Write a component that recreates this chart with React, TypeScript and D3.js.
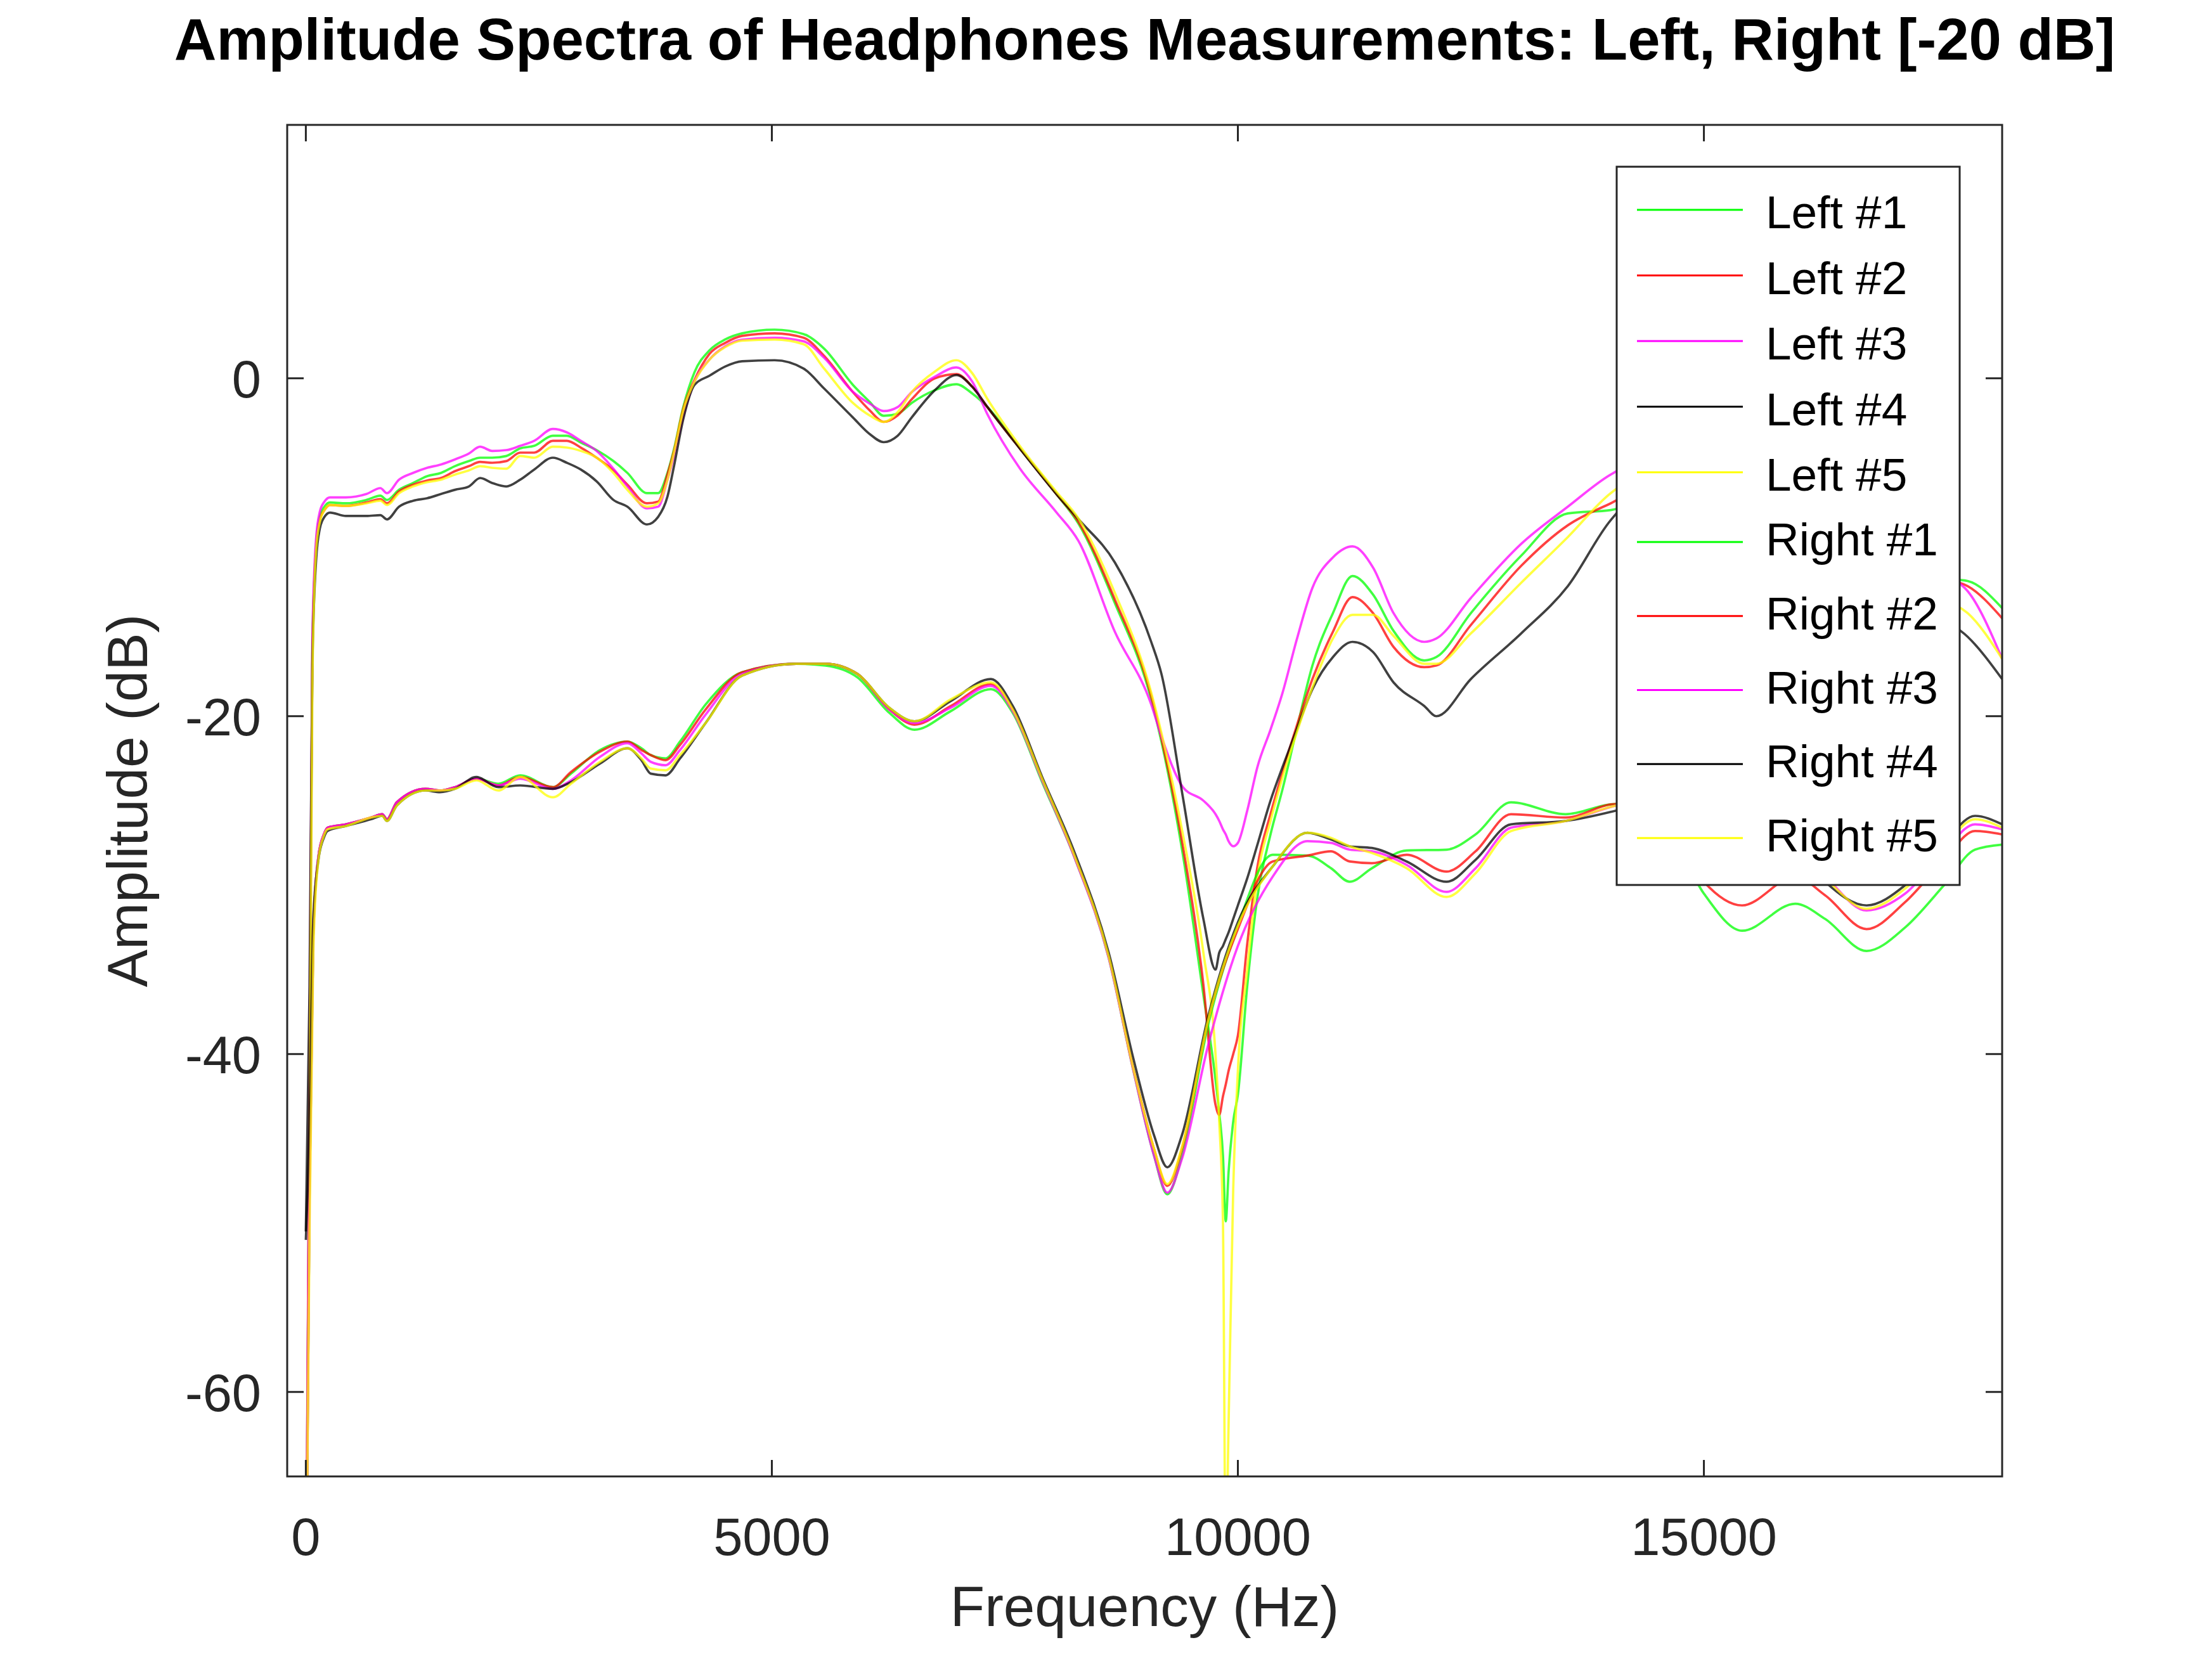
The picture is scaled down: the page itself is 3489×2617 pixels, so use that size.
import * as d3 from "d3";

// Headphone amplitude spectra, Left measurements at 0 dB, Right shifted by -20 dB.
const W = 3489;
const H = 2617;
const box = { left: 453, right: 3158, top: 197, bottom: 2329 };

const xTicks = [0, 5000, 10000, 15000];
const yTicks = [-60, -40, -20, 0];

const names = ["Left #1", "Left #2", "Left #3", "Left #4", "Left #5", "Right #1", "Right #2", "Right #3", "Right #4", "Right #5"];
const colors = ["#00ff00", "#ff0000", "#ff00ff", "#000000", "#ffff00", "#00ff00", "#ff0000", "#ff00ff", "#000000", "#ffff00"];

// frequency grid (Hz) for the Left curves
const leftFreq = [
  0, 40, 70, 110, 150, 200, 260, 430, 650, 800,
  870, 1000, 1150, 1300, 1450, 1600, 1750, 1870, 2000, 2150,
  2300, 2450, 2650, 2800, 2950, 3120, 3300, 3450, 3660, 3780,
  3880, 3950, 4050, 4170, 4330, 4500, 4680, 5030, 5340, 5560,
  5870, 6050, 6200, 6350, 6500, 6750, 6980, 7150, 7310, 7660,
  8050, 8290, 8680, 9070, 9180, 9410, 9630, 9760, 9800, 9840,
  9870, 9900, 9950, 10000, 10100, 10210, 10350, 10480, 10630, 10800,
  11020, 11230, 11450, 11670, 12000, 12130, 12500, 13040, 13540, 14000,
  14500, 15200, 16000, 17000, 17500, 17830, 18200,
];

const left1 = [
  -75, -42, -16, -9.8, -8.2, -7.6, -7.35, -7.4, -7.2, -6.95,
  -7.2, -6.6, -6.2, -5.8, -5.6, -5.2, -4.9, -4.7, -4.7, -4.6,
  -4.15, -4.0, -3.4, -3.4, -3.8, -4.25, -4.9, -5.6, -6.8, -6.8,
  -5.6, -4.2, -1.7, 0.36, 1.65, 2.3, 2.66, 2.88, 2.62, 1.76,
  -0.39, -1.4, -2.22, -2.1, -1.46, -0.7, -0.35, -0.9, -1.68, -4.15,
  -6.83, -8.6, -13.3, -19.0, -21.5, -28.2, -36.5, -41.5, -43.5, -46.0,
  -49.9, -47.0, -44.0, -42.4, -36.0, -30.7, -27.0, -24.3, -20.8, -17.0,
  -13.9, -11.7, -12.8, -14.95, -16.7, -16.5, -13.9, -10.5, -8.0, -7.8,
  -7.2, -7.2, -8.0, -10.5, -11.8, -12.0, -13.6,
];
const left2 = [
  -75, -42, -16.5, -10, -8.4, -7.8, -7.5, -7.55, -7.35, -7.15,
  -7.4, -6.7, -6.3, -6.05, -5.9, -5.5, -5.2, -4.95, -5.0, -4.9,
  -4.4, -4.4, -3.7, -3.7, -4.1, -4.7, -5.45, -6.3, -7.4, -7.3,
  -5.7, -4.3, -1.8, -0.1, 1.44, 2.1, 2.51, 2.66, 2.4, 1.33,
  -0.82, -1.9, -2.58, -2.2, -1.25, 0.0, 0.25, -0.5, -1.68, -4.15,
  -6.83, -8.5, -13.1, -18.8, -21.3, -27.7, -35.9, -43.0, -43.6, -42.5,
  -41.8, -41.0, -40.0, -38.9, -33.5, -28.9, -25.8, -23.3, -20.6, -17.8,
  -15.0, -12.95, -13.9, -15.9, -17.1, -17.0, -14.6, -11.1, -8.7, -7.4,
  -6.2, -6.6, -7.8, -10.5, -11.8, -12.3, -14.2,
];
const left3 = [
  -75, -40, -15.5, -9.5, -7.9, -7.3, -7.05, -7.05, -6.85, -6.5,
  -6.8, -6.0, -5.6, -5.3, -5.1, -4.8, -4.45, -4.05, -4.3, -4.25,
  -4.0, -3.7, -3.0, -3.2, -3.7, -4.3, -5.35, -6.4, -7.7, -7.6,
  -6.0, -4.6, -2.2, -0.2, 1.11, 1.9, 2.29, 2.4, 2.19, 1.22,
  -0.8, -1.5, -1.94, -1.7, -0.82, 0.1, 0.64, -0.2, -2.1, -5.33,
  -7.91, -9.63, -15.0, -19.3, -21.2, -24.2, -25.0, -25.8, -26.2, -26.7,
  -27.0, -27.4, -27.7, -27.5, -25.6, -23.0, -20.8, -18.6, -15.5, -12.4,
  -10.6, -9.95, -11.2, -13.9, -15.6, -15.4, -13.0, -9.8, -7.6, -5.7,
  -4.6, -5.0, -7.0, -10.0, -11.5, -12.6, -16.6,
];
const left4 = [
  -50.5, -36, -17, -10.8, -8.9, -8.2, -7.95, -8.15, -8.15, -8.1,
  -8.35, -7.6, -7.25, -7.1, -6.85, -6.6, -6.4, -5.9, -6.2, -6.4,
  -6.0, -5.4, -4.7, -5.0, -5.4, -6.1, -7.2, -7.6, -8.65, -8.2,
  -7.0, -5.2, -2.4, -0.39, 0.15, 0.7, 1.01, 1.07, 0.58, -0.6,
  -2.32, -3.3, -3.78, -3.4, -2.32, -0.7, 0.19, -0.5, -1.68, -4.15,
  -6.83, -8.34, -10.9, -15.6, -17.5, -24.8, -32.0, -35.0, -34.0, -33.6,
  -33.2, -32.8, -32.0, -31.2, -29.6, -27.6, -25.0, -23.0, -20.8, -18.4,
  -16.5, -15.6, -16.2, -18.0, -19.4, -20.0, -17.8, -15.1, -12.3, -8.4,
  -6.2, -7.2, -9.2, -12.0, -14.0, -15.3, -17.8,
];
const left5 = [
  -75, -46, -18, -10.2, -8.5, -7.8, -7.5, -7.55, -7.4, -7.25,
  -7.5, -6.8, -6.4, -6.15, -6.0, -5.7, -5.45, -5.2, -5.3, -5.35,
  -4.6, -4.7, -4.05, -4.1, -4.3, -4.7, -5.6, -6.6, -7.6, -7.4,
  -6.0, -4.4, -1.9, -0.2, 1.1, 1.85, 2.23, 2.29, 2.02, 0.58,
  -1.46, -2.2, -2.58, -2.0, -0.82, 0.4, 1.07, 0.3, -1.2, -4.0,
  -6.7, -8.3, -12.7, -18.6, -21.0, -27.0, -34.0, -40.0, -44.0, -50.0,
  -70.0, -62.0, -48.0, -41.0, -35.0, -29.5, -26.2, -23.6, -21.0, -18.3,
  -15.4, -14.0, -14.0, -15.25, -16.9, -16.9, -15.1, -12.1, -9.4, -6.8,
  -5.4, -6.4, -8.5, -12.0, -13.0, -13.9, -16.6,
];

// frequency grid (Hz) for the Right curves (already offset by -20 dB)
const rightFreq = [
  0, 40, 80, 135, 193, 232, 430, 700, 820, 870,
  975, 1285, 1440, 1600, 1830, 2065, 2300, 2650, 2845, 3157,
  3450, 3600, 3700, 3860, 4015, 4290, 4680, 5260, 5575, 5918,
  6260, 6530, 6920, 7350, 7585, 7900, 8250, 8614, 8880, 9100,
  9243, 9400, 9680, 10000, 10373, 10746, 11000, 11199, 11438, 11811,
  12238, 12550, 12930, 13517, 14050, 14500, 15000, 15410, 15980, 16300,
  16745, 17160, 17577, 17909, 18200,
];

const right1 = [
  -75, -48, -33, -28.3, -27.0, -26.6, -26.4, -26.0, -25.8, -26.1,
  -25.1, -24.3, -24.4, -24.2, -23.7, -24.0, -23.5, -24.2, -23.4, -22.0,
  -21.5, -21.9, -22.3, -22.5, -21.5, -19.3, -17.4, -16.9, -17.0, -17.7,
  -19.8, -20.8, -19.7, -18.4, -19.8, -23.9, -28.4, -34.3, -41.0, -46.0,
  -48.3, -46.0, -38.3, -32.4, -28.2, -28.25, -29.0, -29.8, -29.0, -27.95,
  -27.9, -27.0, -25.1, -25.8, -25.2, -25.5, -30.5, -32.7, -31.1, -32.0,
  -33.9, -32.5, -30.0, -27.9, -27.6,
];
const right2 = [
  -75, -48, -33, -28.3, -27.0, -26.6, -26.4, -26.0, -25.8, -26.1,
  -25.1, -24.3, -24.4, -24.2, -23.7, -24.1, -23.6, -24.2, -23.3, -22.1,
  -21.5, -22.0, -22.3, -22.6, -21.7, -19.6, -17.4, -16.9, -16.9, -17.5,
  -19.6, -20.5, -19.4, -18.1, -19.6, -23.7, -28.3, -34.2, -40.9, -45.6,
  -47.8, -45.6, -38.0, -32.6, -28.6, -28.25, -28.0, -28.6, -28.7, -28.2,
  -29.2, -28.0, -25.8, -26.0, -25.2, -25.2, -29.8, -31.2, -29.5, -30.6,
  -32.6, -31.0, -28.5, -26.8, -27.0,
];
const right3 = [
  -75, -48, -33, -28.3, -27.0, -26.6, -26.4, -26.0, -25.8, -26.1,
  -25.1, -24.3, -24.4, -24.2, -23.7, -24.1, -23.7, -24.3, -23.8, -22.4,
  -21.6, -22.2, -22.7, -22.9, -22.0, -19.9, -17.5, -16.9, -16.9, -17.5,
  -19.6, -20.4, -19.5, -18.2, -19.7, -23.8, -28.4, -34.3, -41.0, -46.0,
  -48.2, -46.2, -39.5, -33.6, -29.5, -27.4, -27.5, -27.9, -28.0, -28.8,
  -30.4, -29.0, -26.6, -26.2, -25.3, -24.8, -26.5, -28.0, -28.0, -29.5,
  -31.5, -30.5, -28.0, -26.4, -26.7,
];
const right4 = [
  -51, -44, -32, -28.5, -27.2, -26.8, -26.5, -26.1, -25.9, -26.2,
  -25.3, -24.4, -24.5, -24.3, -23.6, -24.2, -24.1, -24.3, -23.9, -22.8,
  -21.9, -22.6, -23.4, -23.5, -22.5, -20.4, -17.6, -16.9, -16.9, -17.5,
  -19.5, -20.3, -19.1, -17.8, -19.4, -23.6, -28.1, -34.0, -40.3, -44.8,
  -46.7, -44.8, -37.8, -32.2, -28.9, -26.9, -27.3, -27.7, -27.8, -28.6,
  -29.8, -28.5, -26.4, -26.2, -25.6, -24.9, -26.5, -27.5, -27.8, -29.8,
  -31.2, -30.0, -27.5, -25.9, -26.4,
];
const right5 = [
  -75, -50, -34, -28.5, -27.1, -26.7, -26.5, -26.0, -25.9, -26.2,
  -25.3, -24.4, -24.4, -24.3, -23.8, -24.4, -23.6, -24.8, -24.0, -22.7,
  -21.9, -22.5, -23.1, -23.2, -22.3, -20.4, -17.6, -16.9, -16.9, -17.5,
  -19.5, -20.3, -19.0, -18.0, -19.6, -23.7, -28.3, -34.2, -40.9, -45.6,
  -47.7, -45.5, -38.0, -32.4, -28.9, -26.9, -27.2, -27.7, -28.1, -29.0,
  -30.7, -29.3, -26.8, -26.2, -25.3, -24.9, -26.5, -27.8, -28.0, -29.6,
  -31.4, -30.2, -27.7, -26.1, -26.6,
];

const seriesValues = [left1, left2, left3, left4, left5, right1, right2, right3, right4, right5];

const font = "'Liberation Sans', Arial, Helvetica, sans-serif";
const ink = "#262626";

export default function App() {
  const x = d3.scaleLinear().domain([-200, 18200]).range([box.left, box.right]);
  const y = d3.scaleLinear().domain([-65, 15]).range([box.bottom, box.top]);

  const line = d3
    .line<[number, number]>()
    .x((d) => x(d[0]))
    .y((d) => y(d[1]))
    .curve(d3.curveMonotoneX);

  const paths = seriesValues.map((vals, i) => {
    const freq = i < 5 ? leftFreq : rightFreq;
    const pts = vals.map((v, j) => [freq[j], v] as [number, number]);
    return line(pts) ?? "";
  });

  const tick = 26;
  // legend box, rows are spaced a little wider for the "Right" entries
  const lg = { x0: 2550, x1: 3091, y0: 263, y1: 1396 };
  const rowY = (i: number) => (i < 5 ? 331 + 103.5 * i : 855 + 116.75 * (i - 5));

  return (
    <div style={{ position: "absolute", left: 0, top: 0 }}>
      <svg width={W} height={H} viewBox={`0 0 ${W} ${H}`} style={{ display: "block", background: "#fff" }}>
        <defs>
          <clipPath id="plotclip">
            <rect x={box.left} y={box.top} width={box.right - box.left} height={box.bottom - box.top} />
          </clipPath>
        </defs>
        <rect x={0} y={0} width={W} height={H} fill="#fff" />

        <g clipPath="url(#plotclip)">
          {paths.map((d, i) => (
            <path key={names[i]} d={d} fill="none" stroke={colors[i]} strokeOpacity={0.75} strokeWidth={3.7} strokeLinejoin="round" />
          ))}
        </g>

        {/* axes box with inward ticks on all four sides */}
        <rect x={box.left} y={box.top} width={box.right - box.left} height={box.bottom - box.top} fill="none" stroke={ink} strokeWidth={3} />
        {xTicks.map((t) => (
          <g key={`xt${t}`} stroke={ink} strokeWidth={3}>
            <line x1={x(t)} x2={x(t)} y1={box.bottom} y2={box.bottom - tick} />
            <line x1={x(t)} x2={x(t)} y1={box.top} y2={box.top + tick} />
          </g>
        ))}
        {yTicks.map((t) => (
          <g key={`yt${t}`} stroke={ink} strokeWidth={3}>
            <line x1={box.left} x2={box.left + tick} y1={y(t)} y2={y(t)} />
            <line x1={box.right} x2={box.right - tick} y1={y(t)} y2={y(t)} />
          </g>
        ))}
        {xTicks.map((t) => (
          <text key={`xl${t}`} x={x(t)} y={2453} textAnchor="middle" fontFamily={font} fontSize={83} fill={ink}>
            {t}
          </text>
        ))}
        {yTicks.map((t) => (
          <text key={`yl${t}`} x={412} y={y(t) + 30} textAnchor="end" fontFamily={font} fontSize={83} fill={ink}>
            {t}
          </text>
        ))}

        <text x={(box.left + box.right) / 2} y={2565} textAnchor="middle" fontFamily={font} fontSize={89} fill={ink}>
          Frequency (Hz)
        </text>
        <text
          transform={`translate(232, ${(box.top + box.bottom) / 2}) rotate(-90)`}
          textAnchor="middle"
          fontFamily={font}
          fontSize={89}
          fill={ink}
        >
          Amplitude (dB)
        </text>
        <text x={(box.left + box.right) / 2} y={94} textAnchor="middle" fontFamily={font} fontSize={92.3} fontWeight="bold" fill="#000">
          Amplitude Spectra of Headphones Measurements: Left, Right [-20 dB]
        </text>

        {/* legend */}
        <rect x={lg.x0} y={lg.y0} width={lg.x1 - lg.x0} height={lg.y1 - lg.y0} fill="#fff" stroke={ink} strokeWidth={3} />
        {names.map((n, i) => (
          <g key={`lg${n}`}>
            <line x1={2582} x2={2749} y1={rowY(i)} y2={rowY(i)} stroke={colors[i]} strokeWidth={3.2} />
            <text x={2785} y={rowY(i) + (i < 5 ? 29 : 21)} fontFamily={font} fontSize={73} fill="#000">
              {n}
            </text>
          </g>
        ))}
      </svg>
    </div>
  );
}
